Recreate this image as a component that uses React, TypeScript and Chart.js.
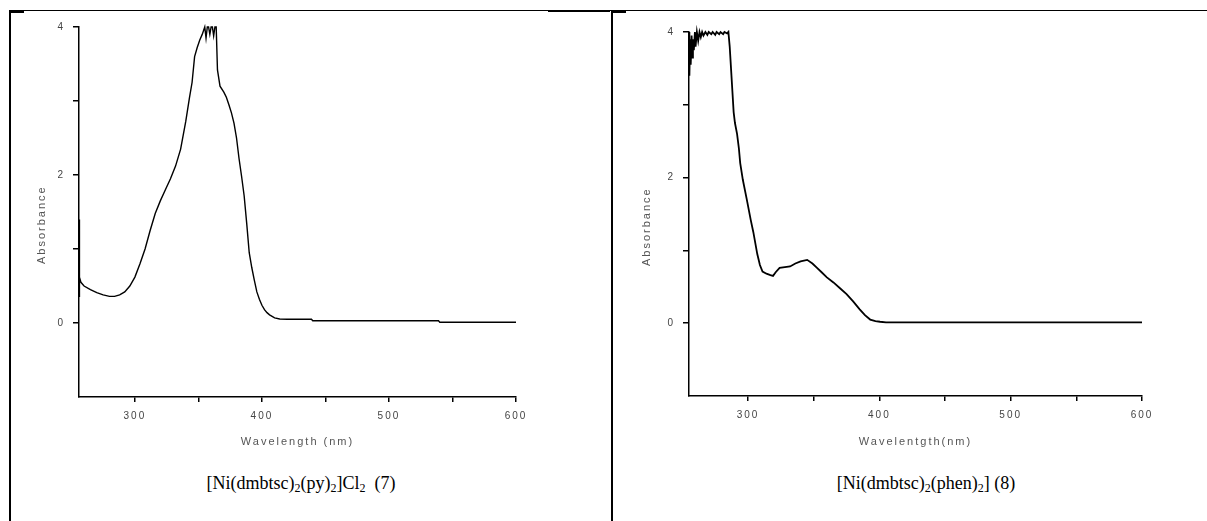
import React, { useEffect, useRef } from 'react';
import { Chart, registerables } from 'chart.js';

Chart.register(...registerables);

// Spectrum (7): [Ni(dmbtsc)2(py)2]Cl2
const wavelength7 = [256, 256.2, 256.5, 257.5, 260, 265, 270, 275, 280, 284, 288, 292, 296, 300, 304, 308, 312, 316, 320, 324, 328, 332, 336, 340, 343, 345, 347, 349, 351, 353, 355, 356, 357, 358, 359, 360, 361, 362, 363, 364, 364.6, 365, 367, 370, 372, 374, 376, 378, 380, 382, 384, 386, 388, 390, 392, 394, 396, 398, 400, 402, 404, 406, 408, 410, 414, 420, 430, 439, 440, 460, 480, 500, 520, 539, 540, 560, 580, 600];
const absorbance7 = [1.4, 0.35, 0.62, 0.55, 0.5, 0.45, 0.41, 0.38, 0.36, 0.36, 0.38, 0.42, 0.5, 0.62, 0.8, 1.0, 1.25, 1.48, 1.65, 1.8, 1.95, 2.12, 2.35, 2.72, 3.05, 3.25, 3.6, 3.72, 3.82, 3.9, 4.0, 3.85, 4.0, 4.0, 3.9, 4.0, 4.0, 3.88, 4.0, 4.0, 4.0, 3.42, 3.2, 3.12, 3.05, 2.95, 2.84, 2.7, 2.5, 2.22, 1.98, 1.72, 1.35, 0.95, 0.75, 0.58, 0.42, 0.32, 0.24, 0.18, 0.14, 0.11, 0.09, 0.07, 0.055, 0.05, 0.05, 0.05, 0.03, 0.03, 0.03, 0.03, 0.03, 0.03, 0.01, 0.01, 0.01, 0.01];

// Spectrum (8): [Ni(dmbtsc)2(phen)2]
const wavelength8 = [255, 255.3, 255.8, 256.3, 257, 257.5, 258, 258.7, 259.5, 260, 261, 262, 263, 264, 265, 266, 267.5, 269, 270, 272, 273, 275, 276, 278, 279, 281, 282, 284, 285, 286, 287, 288, 289, 290, 291.6, 293, 294, 296, 299, 302, 304, 307, 309, 311, 314, 317, 319, 321, 324, 328, 332, 336, 340, 345, 349, 352.5, 356, 360, 365, 370, 375, 380, 385, 389, 393, 397, 400.5, 405, 450, 500, 550, 600];
const absorbance8 = [4.0, 3.4, 3.9, 3.55, 3.95, 3.65, 3.9, 3.75, 4.0, 3.8, 4.0, 3.88, 4.0, 3.93, 4.0, 3.95, 4.0, 3.96, 4.0, 3.97, 4.0, 3.96, 4.0, 3.97, 4.0, 3.97, 4.0, 3.98, 4.0, 3.8, 3.5, 3.2, 2.9, 2.75, 2.6, 2.4, 2.2, 1.97, 1.7, 1.42, 1.25, 0.95, 0.8, 0.71, 0.68, 0.66, 0.65, 0.7, 0.76, 0.77, 0.78, 0.82, 0.85, 0.87, 0.82, 0.76, 0.7, 0.63, 0.56, 0.48, 0.4, 0.3, 0.19, 0.11, 0.05, 0.03, 0.02, 0.01, 0.01, 0.01, 0.01, 0.01];

const xTickValues = [300, 350, 400, 450, 500, 550, 600];
const xLabelValues = [300, 400, 500, 600];
const yTickValues = [0, 1, 2, 3, 4];
const yLabelValues = [0, 2, 4];

const FONT = 'Liberation Sans, Arial, sans-serif';

const spacingPlugin = {
  id: 'letterSpacing',
  beforeDraw(chart: any) {
    (chart.ctx as any).letterSpacing = '2px';
  },
};

type PanelProps = {
  wl: number[];
  ab: number[];
  xMin: number;
  xTitle: string;
  left: number;
  top: number;
  width: number;
  height: number;
  padTop: number;
  padRight: number;
  yAxisWidth: number;
  xAxisHeight: number;
  yTitlePad: number;
  lineWidth: number;
};

function SpectrumPanel(p: PanelProps) {
  const ref = useRef<HTMLCanvasElement | null>(null);
  useEffect(() => {
    if (!ref.current) return;
    const points = p.wl.map((x, i) => ({ x, y: p.ab[i] }));
    const chart = new Chart(ref.current, {
      type: 'line',
      data: {
        datasets: [
          {
            data: points,
            borderColor: '#000',
            borderWidth: p.lineWidth,
            pointRadius: 0,
            tension: 0,
            fill: false,
            clip: false as any,
          },
        ],
      },
      plugins: [spacingPlugin],
      options: {
        animation: false,
        responsive: false,
        devicePixelRatio: 1,
        layout: { padding: { left: 0, top: p.padTop, right: p.padRight, bottom: 0 } },
        plugins: { legend: { display: false }, tooltip: { enabled: false } },
        scales: {
          x: {
            type: 'linear',
            min: p.xMin,
            max: 600,
            afterBuildTicks: (s: any) => {
              s.ticks = xTickValues.map((v) => ({ value: v }));
            },
            afterFit: (s: any) => {
              s.height = p.xAxisHeight;
            },
            ticks: {
              autoSkip: false,
              maxRotation: 0,
              padding: 8,
              color: '#444',
              font: { family: FONT, size: 10 },
              callback: (v: any) => (xLabelValues.includes(Number(v)) ? String(v) : ''),
            },
            grid: {
              display: true,
              drawOnChartArea: false,
              drawTicks: true,
              tickLength: 5,
              color: '#000',
              lineWidth: 1.5,
            },
            border: { display: true, color: '#000', width: 1.5 },
            title: {
              display: true,
              text: p.xTitle,
              color: '#555',
              font: { family: FONT, size: 11 },
              padding: { top: 0, bottom: 21 },
            },
          },
          y: {
            type: 'linear',
            min: -1,
            max: 4,
            afterBuildTicks: (s: any) => {
              s.ticks = yTickValues.map((v) => ({ value: v }));
            },
            afterFit: (s: any) => {
              s.width = p.yAxisWidth;
            },
            ticks: {
              autoSkip: false,
              padding: 8,
              color: '#444',
              font: { family: FONT, size: 10 },
              callback: (v: any) => (yLabelValues.includes(Number(v)) ? String(v) : ''),
            },
            grid: {
              display: true,
              drawOnChartArea: false,
              drawTicks: true,
              tickLength: 6,
              color: '#000',
              lineWidth: 1.5,
            },
            border: { display: true, color: '#000', width: 1.5 },
            title: {
              display: true,
              text: 'Absorbance     ',
              color: '#555',
              font: { family: FONT, size: 11 },
              padding: { top: p.yTitlePad, bottom: 0 },
            },
          },
        },
      } as any,
    });
    return () => chart.destroy();
  }, []);
  return (
    <canvas
      ref={ref}
      width={p.width}
      height={p.height}
      style={{ position: 'absolute', left: p.left, top: p.top, width: p.width, height: p.height }}
    />
  );
}

const line = (left: number, top: number, width: number, height: number) => (
  <div style={{ position: 'absolute', left, top, width, height, background: '#000' }} />
);

const captionStyle: React.CSSProperties = {
  position: 'absolute',
  top: 471,
  fontFamily: '"Liberation Serif", "Times New Roman", serif',
  fontSize: 18,
  lineHeight: '24px',
  whiteSpace: 'pre',
  color: '#000',
  transform: 'translateX(-50%)',
};
const sub: React.CSSProperties = { fontSize: 12, verticalAlign: '-3px', lineHeight: 0 };

export default function App() {
  return (
    <div style={{ position: 'absolute', left: 0, top: 0, width: 1207, height: 521, background: '#fff', overflow: 'hidden' }}>
      {line(10, 10, 1197, 1)}
      {line(9, 10, 2, 511)}
      {line(611, 10, 2, 511)}
      {line(10, 10, 14, 3)}
      {line(612, 10, 14, 3)}
      {line(548, 10, 62, 2)}
      <SpectrumPanel
        wl={wavelength7}
        ab={absorbance7}
        xMin={256}
        xTitle="Wavelength (nm)"
        left={10}
        top={10}
        width={600}
        height={460}
        padTop={17}
        padRight={94}
        yAxisWidth={69}
        xAxisHeight={73}
        yTitlePad={25}
        lineWidth={1.4}
      />
      <SpectrumPanel
        wl={wavelength8}
        ab={absorbance8}
        xMin={255}
        xTitle="Wavelentgth(nm)"
        left={613}
        top={10}
        width={594}
        height={460}
        padTop={22}
        padRight={65}
        yAxisWidth={76}
        xAxisHeight={74}
        yTitlePad={27}
        lineWidth={1.8}
      />
      <div style={{ ...captionStyle, left: 301 }}>
        [Ni(dmbtsc)<span style={sub}>2</span>(py)<span style={sub}>2</span>]Cl<span style={sub}>2</span>{'  (7)'}
      </div>
      <div style={{ ...captionStyle, left: 926 }}>
        [Ni(dmbtsc)<span style={sub}>2</span>(phen)<span style={sub}>2</span>] (8)
      </div>
    </div>
  );
}
